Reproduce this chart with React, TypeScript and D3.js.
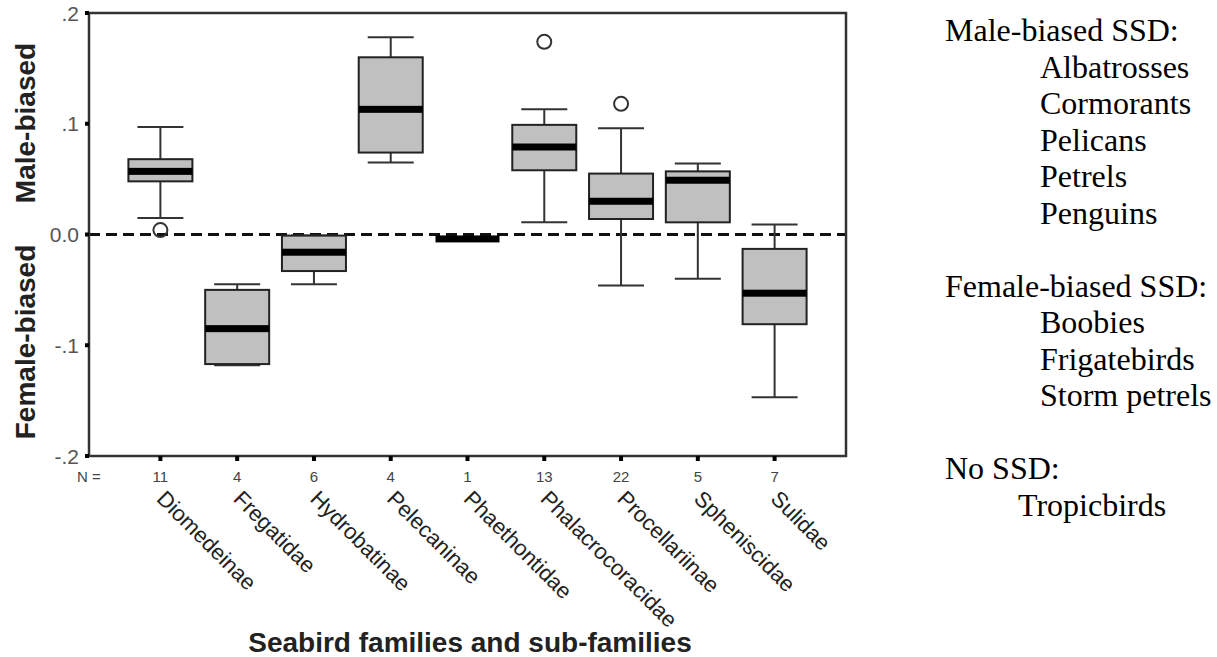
import React from "react";
import * as d3 from "d3";

const categories = [
  "Diomedeinae",
  "Fregatidae",
  "Hydrobatinae",
  "Pelecaninae",
  "Phaethontidae",
  "Phalacrocoracidae",
  "Procellariinae",
  "Spheniscidae",
  "Sulidae",
];
const nCounts = [11, 4, 6, 4, 1, 13, 22, 5, 7];
const whiskerLow = [0.015, -0.118, -0.045, 0.065, -0.004, 0.011, -0.046, -0.04, -0.147];
const q1 = [0.048, -0.117, -0.033, 0.074, -0.004, 0.058, 0.014, 0.011, -0.081];
const median = [0.057, -0.085, -0.016, 0.113, -0.004, 0.079, 0.03, 0.049, -0.053];
const q3 = [0.068, -0.05, -0.001, 0.16, -0.004, 0.099, 0.055, 0.057, -0.013];
const whiskerHigh = [0.097, -0.045, -0.001, 0.178, -0.004, 0.113, 0.096, 0.064, 0.009];
const outliers = [
  { cat: "Diomedeinae", value: 0.004 },
  { cat: "Phalacrocoracidae", value: 0.174 },
  { cat: "Procellariinae", value: 0.118 },
];
const yTicks = [0.2, 0.1, 0, -0.1, -0.2];
const yTickLabels = [".2", ".1", "0.0", "-.1", "-.2"];

const legendLines = [
  { text: "Male-biased SSD:", indent: 0 },
  { text: "Albatrosses", indent: 1 },
  { text: "Cormorants", indent: 1 },
  { text: "Pelicans", indent: 1 },
  { text: "Petrels", indent: 1 },
  { text: "Penguins", indent: 1 },
  { text: "", indent: 0 },
  { text: "Female-biased SSD:", indent: 0 },
  { text: "Boobies", indent: 1 },
  { text: "Frigatebirds", indent: 1 },
  { text: "Storm petrels", indent: 1 },
  { text: "", indent: 0 },
  { text: "No SSD:", indent: 0 },
  { text: "Tropicbirds", indent: 2 },
];

const W = 1217;
const H = 657;
const left = 89;
const right = 846;
const top = 13;
const bottom = 456;

export default function App() {
  const x = d3.scalePoint<string>().domain(categories).range([left, right]).padding(0.93);
  const y = d3.scaleLinear().domain([-0.2, 0.2]).range([bottom, top]);
  const boxW = 64;
  const capW = 46;
  const sans = "'Liberation Sans', Arial, Helvetica, sans-serif";
  const serif = "'Liberation Serif', 'Times New Roman', serif";

  return (
    <svg
      width={W}
      height={H}
      style={{ position: "absolute", left: 0, top: 0, background: "#fff" }}
      fontFamily={sans}
    >
      {/* zero dashed line */}
      <line
        x1={left}
        x2={right}
        y1={y(0)}
        y2={y(0)}
        stroke="#111"
        strokeWidth={3}
        strokeDasharray="11,6"
      />
      {/* boxes */}
      {categories.map((c, i) => {
        const cx = x(c) as number;
        const single = nCounts[i] === 1;
        return (
          <g key={c}>
            {!single && (
              <>
                <line x1={cx} x2={cx} y1={y(whiskerHigh[i])} y2={y(q3[i])} stroke="#333" strokeWidth={2} />
                <line x1={cx} x2={cx} y1={y(q1[i])} y2={y(whiskerLow[i])} stroke="#333" strokeWidth={2} />
                <line x1={cx - capW / 2} x2={cx + capW / 2} y1={y(whiskerHigh[i])} y2={y(whiskerHigh[i])} stroke="#333" strokeWidth={2} />
                <line x1={cx - capW / 2} x2={cx + capW / 2} y1={y(whiskerLow[i])} y2={y(whiskerLow[i])} stroke="#333" strokeWidth={2} />
                <rect
                  x={cx - boxW / 2}
                  y={y(q3[i])}
                  width={boxW}
                  height={y(q1[i]) - y(q3[i])}
                  fill="#c0c0c0"
                  stroke="#222"
                  strokeWidth={2}
                />
              </>
            )}
            <rect x={cx - boxW / 2} y={y(median[i]) - 3.5} width={boxW} height={7} fill="#000" />
          </g>
        );
      })}
      {/* outliers */}
      {outliers.map((o, i) => (
        <circle key={i} cx={x(o.cat) as number} cy={y(o.value)} r={7} fill="none" stroke="#333" strokeWidth={2} />
      ))}
      {/* frame */}
      <rect x={left} y={top} width={right - left} height={bottom - top} fill="none" stroke="#333" strokeWidth={2.5} />
      {/* y ticks */}
      {yTicks.map((t, i) => (
        <g key={t}>
          <line x1={left - 4} x2={left} y1={y(t)} y2={y(t)} stroke="#000" strokeWidth={4} />
          <text x={79} y={y(t)} dy="0.36em" textAnchor="end" fontSize={21} fill="#555">
            {yTickLabels[i]}
          </text>
        </g>
      ))}
      {/* x ticks, N and labels */}
      <text x={77} y={482} fontSize={15} fill="#444">N =</text>
      {categories.map((c, i) => {
        const cx = x(c) as number;
        return (
          <g key={c}>
            <line x1={cx} x2={cx} y1={bottom} y2={bottom + 5} stroke="#000" strokeWidth={4} />
            <text x={cx} y={482} textAnchor="middle" fontSize={15} fill="#444">
              {nCounts[i]}
            </text>
            <text
              transform={`translate(${cx - 5},${500}) rotate(45)`}
              fontSize={22}
              fill="#222"
            >
              {c}
            </text>
          </g>
        );
      })}
      {/* axis titles */}
      <text transform={`translate(35,123) rotate(-90)`} textAnchor="middle" fontSize={28} fontWeight="bold" fill="#222">
        Male-biased
      </text>
      <text transform={`translate(35,342) rotate(-90)`} textAnchor="middle" fontSize={28} fontWeight="bold" fill="#222">
        Female-biased
      </text>
      <text x={470} y={652} textAnchor="middle" fontSize={28} fontWeight="bold" fill="#222">
        Seabird families and sub-families
      </text>
      {/* legend text */}
      {legendLines.map((l, i) =>
        l.text ? (
          <text
            key={i}
            x={l.indent === 0 ? 945 : l.indent === 1 ? 1040 : 1018}
            y={41 + i * 36.5}
            fontFamily={serif}
            fontSize={32}
            fill="#000"
          >
            {l.text}
          </text>
        ) : null
      )}
    </svg>
  );
}
